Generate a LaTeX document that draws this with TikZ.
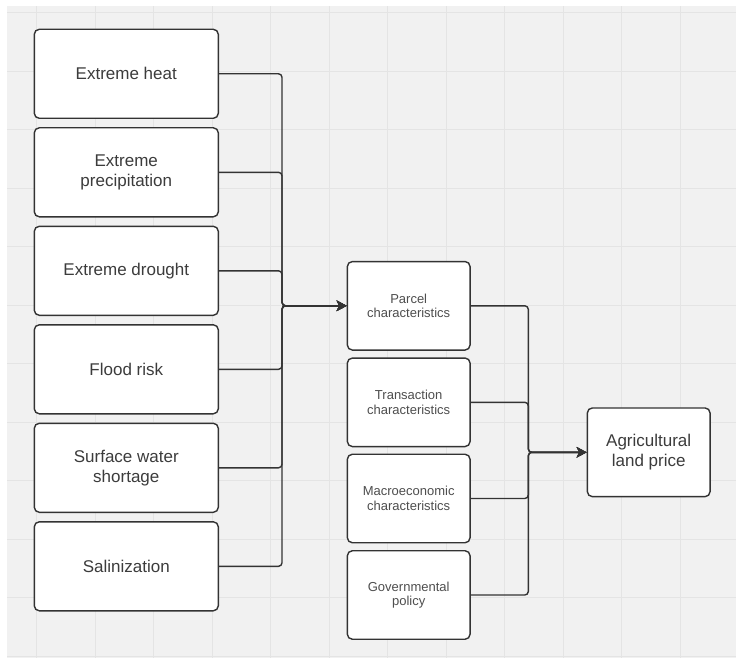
\documentclass[tikz,border=0pt]{standalone}
\usepackage{fontspec}
\setmainfont{Liberation Sans}
\usetikzlibrary{arrows.meta}
\definecolor{bg}{HTML}{F1F1F1}
\definecolor{gridc}{HTML}{E4E4E4}
\definecolor{edge}{HTML}{333333}
\definecolor{txt}{HTML}{3C3C3C}
\definecolor{txtb}{HTML}{4E4E4E}
\tikzset{
  box/.style={draw=edge, line width=1.4pt, rounded corners=5pt, fill=white, inner sep=0pt, align=center},
  bigbox/.style={box, minimum width=184pt, minimum height=89pt, text=txt, font=\fontsize{17}{20.3}\selectfont},
  midbox/.style={box, minimum width=122.7pt, minimum height=88.5pt, text=txtb, font=\fontsize{13}{14.4}\selectfont},
  resbox/.style={box, minimum width=122.7pt, minimum height=88.7pt, text=txt, font=\fontsize{17}{20}\selectfont},
  conn/.style={draw=edge, line width=1.4pt, rounded corners=3.5pt, -{Stealth[length=10pt,width=10.5pt,inset=2.5pt]}},
  gridline/.style={draw=gridc, line width=1.3pt}
}
\begin{document}
\begin{tikzpicture}[x=1pt,y=-1pt]
\useasboundingbox (0,0) rectangle (736,658);
\fill[bg] (7,6) rectangle (736,658);
\foreach \i in {0,...,11} {
  \draw[gridline] ({36.7+58.5*\i},6) -- ({36.7+58.5*\i},658);
  \draw[gridline] (7,{12.7+58.5*\i}) -- (736,{12.7+58.5*\i});
}
% left column
\node[bigbox] (h1) at (126.3,73.8) {Extreme heat};
\node[bigbox] (h2) at (126.3,172.3) {Extreme\\precipitation};
\node[bigbox] (h3) at (126.3,270.8) {Extreme drought};
\node[bigbox] (h4) at (126.3,369.3) {Flood risk};
\node[bigbox] (h5) at (126.3,467.8) {Surface water\\shortage};
\node[bigbox] (h6) at (126.3,566.3) {Salinization};
% middle column
\node[midbox] (m1) at (408.7,305.8) {Parcel\\characteristics};
\node[midbox] (m2) at (408.7,402.3) {Transaction\\characteristics};
\node[midbox] (m3) at (408.7,498.5) {Macroeconomic\\characteristics};
\node[midbox] (m4) at (408.7,595) {Governmental\\policy};
% result
\node[resbox] (agri) at (648.7,452.3) {Agricultural\\land price};
% junctions
\coordinate (j1) at (282,305.8);
\coordinate (j2) at (528.3,452.3);
\foreach \n in {h1,h2,h3,h4,h5,h6} {
  \draw[conn] (\n.east) -| (j1) -- (m1.west);
}
\foreach \n in {m1,m2,m3,m4} {
  \draw[conn] (\n.east) -| (j2) -- (agri.west);
}
\end{tikzpicture}
\end{document}
